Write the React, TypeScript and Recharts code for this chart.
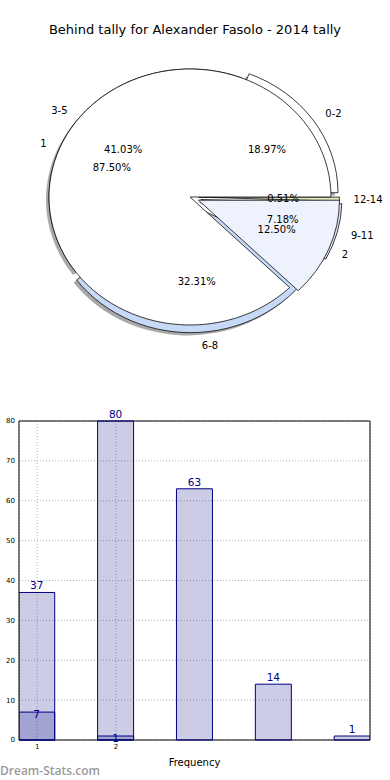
import React from 'react';
import {
  PieChart, Pie, Cell, BarChart, Bar, XAxis, YAxis, CartesianGrid,
  LabelList, ReferenceArea,
} from 'recharts';

// tally ranges (outer, exploded pie) and the count pie drawn over it
const rangeNames = ['0-2', '3-5', '6-8', '9-11', '12-14'];
const rangeValues = [37, 80, 63, 14, 1];
const rangeColors = ['#ffffff', '#ffffff', '#c6d9f7', '#dfe8f7', '#e4eebf'];
const rangeExplode = [0.06, 0, 0.06, 0.08, 0.06];

const countNames = ['1', '2'];
const countValues = [7, 1];
const countColors = ['#ffffff', '#edf2fd'];
const countExplode = [0, 0.065];

const yTicks = [0, 10, 20, 30, 40, 50, 60, 70, 80];
const xTicks = [1, 2];

const R = 141;
const CX = 190; // centre inside the pie box (page coords: 190, 197)
const CY = 157;
const PM = 5; // PieChart default margin
const SY = 128 / 141; // the pie is squashed into an ellipse
const RAD = Math.PI / 180;
const FONT = 'DejaVu Sans, Verdana, sans-serif';

const rangeData = rangeNames.map((name, i) => ({ name, value: rangeValues[i] }));
const countData = countNames.map((name, i) => ({ name, value: countValues[i] }));
const barData = rangeValues.map((v, i) => ({
  x: i + 1,
  tally: v,
  count: i < countValues.length ? countValues[i] : null,
}));

// offset of an exploded wedge along its middle angle
function explodeShift(values: number[], i: number, e: number) {
  const total = values.reduce((a, b) => a + b, 0);
  const before = values.slice(0, i).reduce((a, b) => a + b, 0);
  const mid = ((before + values[i] / 2) / total) * 360;
  const dx = e * R * Math.cos(mid * RAD);
  const dy = -e * R * Math.sin(mid * RAD);
  return `translate(${dx.toFixed(2)},${dy.toFixed(2)})`;
}

function makeLabel(explode: number[]) {
  return (p: any) => {
    const { cx, cy, midAngle, index, name, percent } = p;
    const e = explode[index] || 0;
    const c = Math.cos(-midAngle * RAD);
    const s = Math.sin(-midAngle * RAD);
    const ko = 1.1 + e;
    const ki = 0.6 + e;
    const ox = cx + R * ko * c;
    const oy = cy + R * ko * s;
    const ix = cx + R * ki * c;
    const iy = cy + R * ki * s;
    const fix = (x: number, y: number) => `translate(${x},${y}) scale(1,${1 / SY})`;
    return (
      <g key={`lb-${index}`}>
        <text transform={fix(ox, oy)} x={0} y={0} fontSize={10} fill="#000"
          textAnchor={c >= 0 ? 'start' : 'end'} dominantBaseline="central" fontFamily={FONT}>
          {name}
        </text>
        <text transform={fix(ix, iy)} x={0} y={0} fontSize={10} fill="#000"
          textAnchor="middle" dominantBaseline="central" fontFamily={FONT}>
          {(percent * 100).toFixed(2)}%
        </text>
      </g>
    );
  };
}

export default function App() {
  return (
    <div style={{ position: 'absolute', left: 0, top: 0, width: 390, height: 780, overflow: 'hidden', background: '#fff', fontFamily: FONT }}>
      <div style={{ position: 'absolute', top: 22, left: 0, width: 390, textAlign: 'center', fontSize: 13 }}>
        Behind tally for Alexander Fasolo - 2014 tally
      </div>

      <div style={{ position: 'absolute', top: 40, left: 0, width: 390, height: 330, transform: `scaleY(${SY})`, transformOrigin: `${CX}px ${CY}px` }}>
        <PieChart width={390} height={330}>
          {/* shadow */}
          <Pie data={rangeData} dataKey="value" cx={CX - PM - 3} cy={CY - PM + 3} outerRadius={R} startAngle={0} endAngle={360}
            stroke="none" isAnimationActive={false} labelLine={false}>
            {rangeData.map((d, i) => (
              <Cell key={d.name} fill="#6f6f6f" fillOpacity={0.6} transform={explodeShift(rangeValues, i, rangeExplode[i])} />
            ))}
          </Pie>
          <Pie data={rangeData} dataKey="value" cx={CX - PM} cy={CY - PM} outerRadius={R} startAngle={0} endAngle={360}
            stroke="#000" strokeWidth={0.8} isAnimationActive={false} labelLine={false}>
            {rangeData.map((d, i) => (
              <Cell key={d.name} fill={rangeColors[i]} transform={explodeShift(rangeValues, i, rangeExplode[i])} />
            ))}
          </Pie>
          <Pie data={countData} dataKey="value" cx={CX - PM} cy={CY - PM} outerRadius={R} startAngle={0} endAngle={360}
            stroke="#000" strokeWidth={0.8} isAnimationActive={false} labelLine={false}>
            {countData.map((d, i) => (
              <Cell key={d.name} fill={countColors[i]} transform={explodeShift(countValues, i, countExplode[i])} />
            ))}
          </Pie>
          {/* label layers on top */}
          <Pie data={rangeData} dataKey="value" cx={CX - PM} cy={CY - PM} outerRadius={R} startAngle={0} endAngle={360}
            fill="none" stroke="none" isAnimationActive={false} labelLine={false} label={makeLabel(rangeExplode)} />
          <Pie data={countData} dataKey="value" cx={CX - PM} cy={CY - PM} outerRadius={R} startAngle={0} endAngle={360}
            fill="none" stroke="none" isAnimationActive={false} labelLine={false} label={makeLabel(countExplode)} />
        </PieChart>
      </div>

      <div style={{ position: 'absolute', top: 400, left: 0 }}>
        <BarChart width={390} height={380} data={barData} margin={{ top: 21, right: 20, bottom: 10, left: 0 }}>
          <CartesianGrid stroke="#b0b0b0" strokeDasharray="1 2" />
          <XAxis dataKey="x" type="number" domain={[0.77, 5.22]} ticks={xTicks} allowDataOverflow
            tick={{ fontSize: 7, fill: '#000' }} tickSize={2} tickLine={false} axisLine={false} height={30}
            label={{ value: 'Frequency', position: 'insideBottom', offset: 4, fontSize: 10, fill: '#000' }} />
          <XAxis xAxisId="b" dataKey="x" type="number" domain={[0.77, 5.22]} allowDataOverflow hide />
          <YAxis domain={[0, 80]} ticks={yTicks} width={19} tickSize={2} tickLine={false} axisLine={false}
            tick={{ fontSize: 7, fill: '#000' }} />
          <Bar dataKey="tally" barSize={36} fill="#000080" fillOpacity={0.2} stroke="#000080" strokeWidth={1} isAnimationActive={false}>
            <LabelList dataKey="tally" position="top" offset={3} fontSize={10.5} fill="#00008b" />
          </Bar>
          <Bar dataKey="count" xAxisId="b" barSize={36} fill="#000080" fillOpacity={0.2} stroke="#000080" strokeWidth={1} isAnimationActive={false}>
            <LabelList dataKey="count" position="top" offset={-6} fontSize={10.5} fill="#00008b" />
          </Bar>
          <ReferenceArea x1={0.77} x2={5.22} y1={0} y2={80} fill="none" stroke="#000" strokeWidth={1} ifOverflow="visible" />
        </BarChart>
      </div>

      <div style={{ position: 'absolute', top: 762, left: 0, fontSize: 12, fontWeight: 600, color: '#9a9a9a', fontFamily: 'Open Sans, sans-serif' }}>
        Dream-Stats.com
      </div>
    </div>
  );
}
